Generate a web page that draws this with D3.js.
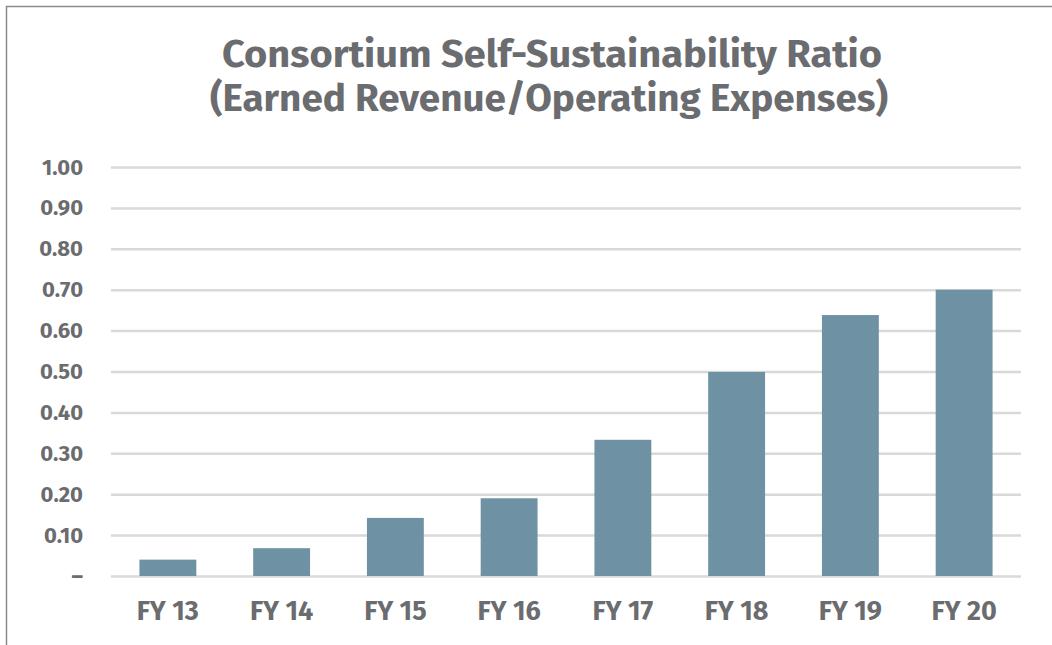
<html>
<head>
<script src="https://d3js.org/d3.v7.min.js"></script>
<style>
  body { margin: 0; background: #fff; }
  text { font-family: "Fira Sans", "Noto Sans", "Open Sans", sans-serif; font-weight: bold; fill: #6b6c6f; }
</style>
</head>
<body>
<svg id="chart"></svg>
<script>
var categories = ["FY 13", "FY 14", "FY 15", "FY 16", "FY 17", "FY 18", "FY 19", "FY 20"];
var ratios = [0.04, 0.068, 0.142, 0.19, 0.333, 0.499, 0.638, 0.70];
var tickValues = [0, 0.1, 0.2, 0.3, 0.4, 0.5, 0.6, 0.7, 0.8, 0.9, 1.0];
var titleLines = ["Consortium Self-Sustainability Ratio", "(Earned Revenue/Operating Expenses)"];

var W = 1052, H = 645;
var plotLeft = 111, plotRight = 1021, plotTop = 167, plotBottom = 576;

var svg = d3.select("#chart").attr("width", W).attr("height", H);

// outer frame (only left and top edges visible)
svg.append("path")
    .attr("d", "M6.5," + H + "V6.5H" + W)
    .attr("fill", "none")
    .attr("stroke", "#8a8a8a")
    .attr("stroke-width", 1.5);

var x = d3.scaleBand().domain(categories).range([plotLeft, plotRight])
    .paddingInner(0.5).paddingOuter(0.25);
var y = d3.scaleLinear().domain([0, 1]).range([plotBottom, plotTop]);

// gridlines + y labels
var yAxis = d3.axisLeft(y)
    .tickValues(tickValues)
    .tickSize(-(plotRight - plotLeft))
    .tickPadding(28)
    .tickFormat(function (d) { return d === 0 ? "–" : d3.format(".2f")(d); });

var gy = svg.append("g").attr("transform", "translate(" + plotLeft + ",0)").call(yAxis);
gy.select(".domain").remove();
gy.selectAll(".tick line").attr("stroke", "#d9d9d9").attr("stroke-width", 2.5);
gy.selectAll(".tick text").style("font-size", "22px").attr("fill", "#6b6c6f");

// bars
svg.append("g").selectAll("rect")
    .data(ratios)
    .enter()
    .append("rect")
    .attr("x", function (d, i) { return x(categories[i]); })
    .attr("width", x.bandwidth())
    .attr("y", function (d) { return y(d); })
    .attr("height", function (d) { return y(0) - y(d); })
    .attr("fill", "#6e91a4");

// x labels
var xAxis = d3.axisBottom(x).tickSize(0).tickPadding(25);
var gx = svg.append("g").attr("transform", "translate(0," + plotBottom + ")").call(xAxis);
gx.select(".domain").remove();
gx.selectAll(".tick text").style("font-size", "27px").attr("fill", "#6b6c6f");

// title
var titleX = [552, 549], titleW = [660, 678];
svg.append("g").selectAll("text")
    .data(titleLines)
    .enter()
    .append("text")
    .attr("x", function (d, i) { return titleX[i]; })
    .attr("y", function (d, i) { return 67 + i * 44; })
    .attr("text-anchor", "middle")
    .style("font-size", "38px")
    .attr("textLength", function (d, i) { return titleW[i]; })
    .attr("lengthAdjust", "spacingAndGlyphs")
    .text(function (d) { return d; });
</script>
</body>
</html>
